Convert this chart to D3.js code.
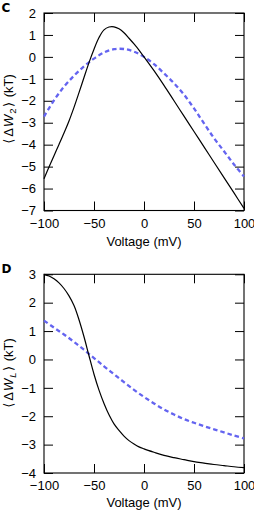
<!DOCTYPE html>
<html>
<head>
<meta charset="utf-8">
<script src="https://cdn.jsdelivr.net/npm/d3@7"></script>
<style>
  body { margin: 0; background: #fff; }
  svg text { font-family: "Liberation Sans", "DejaVu Sans", sans-serif; fill: #000; }
  .axis text { font-size: 13px; }
  .axis line { stroke: #000; stroke-width: 1; }
</style>
</head>
<body>
<div id="chart"></div>
<script>
// voltage grid shared by all the curves (mV)
var voltageC = [-100, -95, -90, -85, -80, -75, -70, -65, -60, -55, -50, -45, -40, -35, -30, -25, -20, -15, -10, -5, 0, 10, 20, 30, 40, 50, 60, 70, 80, 90, 100];
var w2Solid = [-5.55, -5.02, -4.5, -3.99, -3.47, -2.92, -2.3, -1.63, -0.94, -0.26, 0.35, 0.88, 1.23, 1.36, 1.37, 1.28, 1.1, 0.85, 0.59, 0.31, 0.0, -0.63, -1.3, -2.0, -2.7, -3.4, -4.1, -4.8, -5.5, -6.2, -6.9];

var voltageDash = [-100, -90, -80, -70, -60, -50, -40, -30, -20, -10, 0, 10, 20, 30, 40, 50, 60, 70, 80, 90, 100];
var w2Dashed = [-2.72, -1.98, -1.36, -0.86, -0.43, -0.08, 0.2, 0.35, 0.36, 0.24, 0.0, -0.33, -0.75, -1.2, -1.72, -2.35, -3.03, -3.7, -4.3, -4.9, -5.45];

var voltageD = [-100, -95, -90, -85, -80, -75, -70, -65, -60, -55, -50, -45, -40, -35, -30, -25, -20, -15, -10, -5, 0, 10, 20, 30, 40, 50, 60, 70, 80, 90, 100];
var wlSolid = [3.0, 2.94, 2.84, 2.7, 2.5, 2.24, 1.9, 1.4, 0.8, 0.13, -0.52, -1.08, -1.55, -1.95, -2.27, -2.5, -2.7, -2.86, -2.98, -3.08, -3.15, -3.27, -3.38, -3.46, -3.53, -3.6, -3.65, -3.7, -3.74, -3.78, -3.81];
var wlDashed = [1.37, 1.12, 0.88, 0.62, 0.34, 0.05, -0.24, -0.52, -0.8, -1.07, -1.32, -1.55, -1.76, -1.94, -2.1, -2.23, -2.35, -2.46, -2.57, -2.68, -2.78];

var xTicks = [-100, -50, 0, 50, 100];
var yTicksC = [-7, -6, -5, -4, -3, -2, -1, 0, 1, 2];
var yTicksD = [-4, -3, -2, -1, 0, 1, 2, 3];

var svg = d3.select("#chart").append("svg")
    .attr("width", 254)
    .attr("height", 511);

var left = 44, right = 244, tickLen = 9;
var x = d3.scaleLinear().domain([-100, 100]).range([left, right]);

drawPanel({
    letter: "C", letterY: 11.5,
    top: 13, bottom: 210.5, domain: [-7, 2], yTicks: yTicksC,
    sub: "2", labelY: 109, xlabelY: 246,
    solid: [voltageC, w2Solid], dashed: [voltageDash, w2Dashed]
});

drawPanel({
    letter: "D", letterY: 272.5,
    top: 274.3, bottom: 473, domain: [-4, 3], yTicks: yTicksD,
    sub: "L", labelY: 373, xlabelY: 507,
    solid: [voltageD, wlSolid], dashed: [voltageDash, wlDashed]
});

function drawPanel(p) {
    var y = d3.scaleLinear().domain(p.domain).range([p.bottom, p.top]);
    var g = svg.append("g");

    // axes, ticks pointing inward on all four sides
    g.append("g").attr("class", "axis")
        .attr("transform", "translate(" + left + ",0)")
        .call(d3.axisLeft(y).tickValues(p.yTicks).tickSize(-tickLen).tickPadding(8).tickFormat(d3.format("d")));
    g.append("g").attr("class", "axis")
        .attr("transform", "translate(" + right + ",0)")
        .call(d3.axisRight(y).tickValues(p.yTicks).tickSize(-tickLen).tickFormat(""));
    g.append("g").attr("class", "axis")
        .attr("transform", "translate(0," + p.bottom + ")")
        .call(d3.axisBottom(x).tickValues(xTicks).tickSize(-tickLen).tickPadding(8).tickFormat(d3.format("d")));
    g.append("g").attr("class", "axis")
        .attr("transform", "translate(0," + p.top + ")")
        .call(d3.axisTop(x).tickValues(xTicks).tickSize(-tickLen).tickFormat(""));
    g.selectAll(".axis .domain").remove();

    g.append("rect")
        .attr("x", left).attr("y", p.top)
        .attr("width", right - left).attr("height", p.bottom - p.top)
        .attr("fill", "none").attr("stroke", "#000").attr("stroke-width", 1.1);

    var line = d3.line()
        .x(function(d) { return x(d[0]); })
        .y(function(d) { return y(d[1]); })
        .curve(d3.curveCatmullRom.alpha(0.5));

    g.append("path")
        .datum(d3.zip(p.dashed[0], p.dashed[1]))
        .attr("d", line)
        .attr("fill", "none")
        .attr("stroke", "#6464f0")
        .attr("stroke-width", 2.3)
        .attr("stroke-dasharray", "4.5,3");

    g.append("path")
        .datum(d3.zip(p.solid[0], p.solid[1]))
        .attr("d", line)
        .attr("fill", "none")
        .attr("stroke", "#000")
        .attr("stroke-width", 1.2);

    // panel letter
    svg.append("text")
        .attr("x", 1.5).attr("y", p.letterY)
        .style("font-size", "12px").style("font-weight", "bold")
        .style("font-family", "'DejaVu Sans', sans-serif")
        .text(p.letter);

    // x label
    svg.append("text")
        .attr("x", (left + right) / 2).attr("y", p.xlabelY)
        .attr("text-anchor", "middle")
        .style("font-size", "13px")
        .text("Voltage (mV)");

    // y label: <ΔW_sub> (kT)
    var yl = svg.append("text")
        .attr("transform", "translate(12.5," + p.labelY + ") rotate(-90)")
        .attr("text-anchor", "middle")
        .style("font-size", "13px");
    yl.append("tspan").style("font-family", "'DejaVu Sans'").style("letter-spacing", "2px").text("\u27E8");
    yl.append("tspan").style("letter-spacing", "1px").text("\u0394");
    yl.append("tspan").style("font-style", "italic").style("letter-spacing", "1px").text("W");
    yl.append("tspan").attr("dy", 3).style("font-size", "9.5px").style("letter-spacing", "1.5px")
        .style("font-style", p.sub == "L" ? "italic" : "normal").text(p.sub);
    yl.append("tspan").attr("dy", -3).style("font-family", "'DejaVu Sans'").style("letter-spacing", "1px").text("\u27E9");
    yl.append("tspan").text(" (kT)");
}
</script>
</body>
</html>
